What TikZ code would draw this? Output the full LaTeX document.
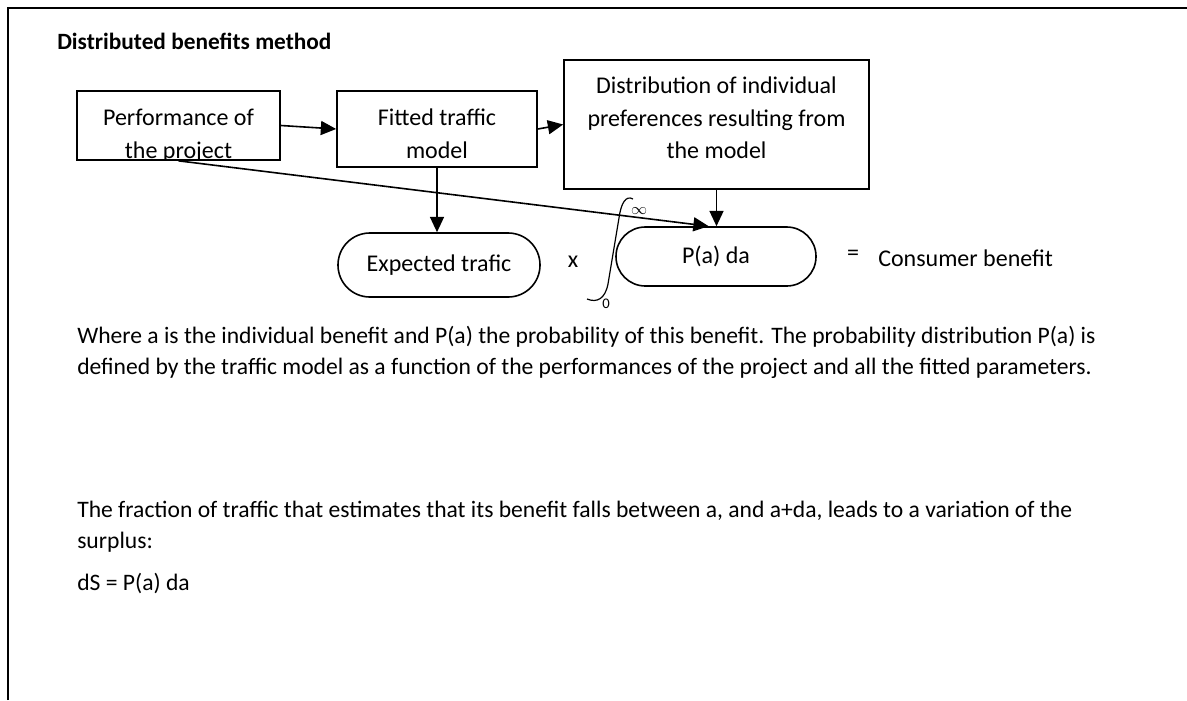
\documentclass[tikz,border=0pt]{standalone}
\usepackage{fontspec}
\setmainfont{Carlito}
\usetikzlibrary{arrows.meta}
\begin{document}
\begin{tikzpicture}[x=0.75pt,y=-0.75pt,
  boxline/.style={draw, line width=1.25pt, inner sep=0pt},
  boxtxt/.style={align=center, inner sep=0pt, font=\fontsize{18}{24.5}\selectfont},
  body/.style={anchor=base west, inner sep=0pt, font=\fontsize{17.7}{22}\selectfont},
  arr/.style={-{Triangle[length=11.5pt,width=10.5pt]}, line width=1.2pt},
  oval/.style={draw, line width=1.2pt, inner sep=0pt, font=\fontsize{18}{22}\selectfont}]
\useasboundingbox (0,0) rectangle (1187,700);
\draw[line width=1.6pt] (8,700) -- (8,8) -- (1187,8);

\node[body, font=\fontsize{17.5}{22}\selectfont\bfseries] (title) at (57,49) {Distributed benefits method};

% boxes
\node[boxline, minimum width=152.25pt, minimum height=51.75pt] (b1) at (178.5,125.5) {};
\begin{scope}
  \clip (b1.south west) rectangle (b1.north east);
  \node[boxtxt] (t1) at (178.5,136) {Performance of\\the project};
\end{scope}
\node[boxline, minimum width=150pt, minimum height=57pt] (b2) at (437,129) {};
\node[boxtxt] (t2) at (437,134) {Fitted traffic\\model};
\node[boxline, minimum width=228.75pt, minimum height=96.75pt] (b3) at (716.5,124.5) {};
\node[boxtxt] (t3) at (716.5,118) {Distribution of individual\\preferences resulting from\\the model};

% ovals
\node[oval, minimum width=151.5pt, minimum height=48pt, rounded corners=23.9pt] (exp) at (439,265) {Expected trafic};
\node[oval, minimum width=150pt, minimum height=44.25pt, rounded corners=22pt] (pa) at (716,256.5) {P(a) da};

% integral sign
\draw[line width=0.9pt] (633,199) .. controls (626,195) and (621,203) .. (619,218)
  -- (608,284) .. controls (605,299) and (597,303) .. (587,299);
\node[font=\fontsize{13}{15}\selectfont, inner sep=0pt] (inf) at (639,211) {$\infty$};
\node[font=\fontsize{11}{13}\selectfont, inner sep=0pt] (zero) at (606,304) {0};

\node[font=\fontsize{18}{20}\selectfont, inner sep=0pt] (times) at (573,262) {x};
\node[font=\fontsize{18}{20}\selectfont, inner sep=0pt] (eq) at (853,255) {=};
\node[font=\fontsize{18}{20}\selectfont, inner sep=0pt, anchor=west] (cb) at (878,258) {Consumer benefit};

% connectors
\draw[arr] (b1.east) -- (b2.west);
\draw[arr] (b2.east) -- (b3.west);
\draw[arr] (b2.south) -- (b2.south |- exp.north);
\draw[arr] (b3.south) -- (b3.south |- pa.north);
\draw[arr] (b1.south) -- ([xshift=-5.5pt]pa.north);

% text
\node[body] (p1) at (77,343) {Where a is the individual benefit and P(a) the probability of this benefit. The probability distribution P(a) is};
\node[body] (p2) at (77,374) {defined by the traffic model as a function of the performances of the project and all the fitted parameters.};
\node[body] (p3) at (77,517) {The fraction of traffic that estimates that its benefit falls between a, and a+da, leads to a variation of the};
\node[body] (p4) at (77,548) {surplus:};
\node[body] (p5) at (77,590) {dS = P(a) da};
\end{tikzpicture}
\end{document}
